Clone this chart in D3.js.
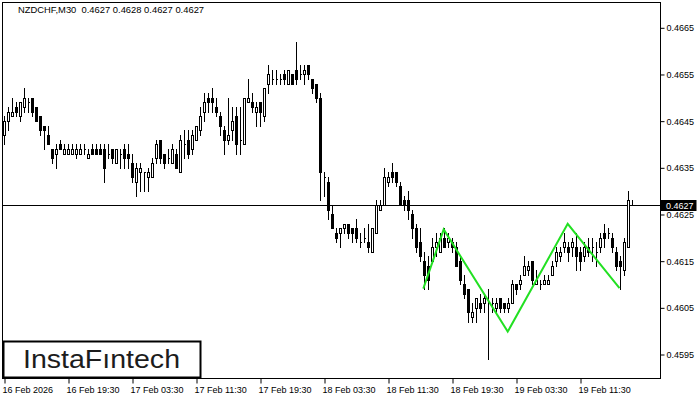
<!DOCTYPE html>
<html>
<head>
<meta charset="utf-8">
<script src="https://cdn.jsdelivr.net/npm/d3@7"></script>
<style>
  body { margin: 0; background: #fff; }
  svg { display: block; }
  text { font-family: "Liberation Sans", Arial, sans-serif; }
</style>
</head>
<body>
<svg width="700" height="400"></svg>
<script>
// NZDCHF M30 candles
let open = [
  0.4642,0.4645,0.4646,0.4648,0.4646,0.4648,0.4649,0.4650,0.4648,0.4646,
  0.4644,0.4642,0.4639,0.4638,0.4640,0.4638,0.4638,0.4638,0.4638,0.4638,
  0.4639,0.4637,0.4639,0.4639,0.4639,0.4639,0.4638,0.4639,0.4636,0.4638,
  0.4639,0.4638,0.4636,0.4632,0.4634,0.4634,0.4633,0.4633,0.4637,0.4641,
  0.4638,0.4637,0.4636,0.4638,0.4634,0.4640,0.4641,0.4639,0.4641,0.4643,
  0.4647,0.4650,0.4650,0.4648,0.4646,0.4643,0.4641,0.4643,0.4646,0.4641,
  0.4640,0.4649,0.4649,0.4647,0.4649,0.4646,0.4653,0.4654,0.4654,0.4654,
  0.4655,0.4653,0.4655,0.4656,0.4655,0.4655,0.4657,0.4654,0.4653,0.4650,
  0.4633,0.4632,0.4625,0.4621,0.4621,0.4622,0.4623,0.4622,0.4622,0.4619,
  0.4620,0.4619,0.4617,0.4621,0.4626,0.4627,0.4632,0.4634,0.4634,0.4631,
  0.4628,0.4628,0.4625,0.4622,0.4619,0.4615,0.4614,0.4615,0.4618,0.4617,
  0.4620,0.4619,0.4619,0.4618,0.4615,0.4610,0.4609,0.4603,0.4605,0.4606,
  0.4606,0.4606,0.4606,0.4605,0.4607,0.4606,0.4605,0.4606,0.4610,0.4610,
  0.4612,0.4613,0.4615,0.4610,0.4610,0.4610,0.4610,0.4612,0.4615,0.4616,
  0.4618,0.4618,0.4618,0.4618,0.4617,0.4616,0.4618,0.4618,0.4617,0.4618,
  0.4621,0.4621,0.4620,0.4617,0.4615,0.4613,0.4618,0.4627
];
let high = [
  0.4646,0.4648,0.4650,0.4649,0.4649,0.4652,0.4650,0.4650,0.4648,0.4646,
  0.4644,0.4644,0.4639,0.4640,0.4641,0.4640,0.4640,0.4640,0.4640,0.4640,
  0.4640,0.4639,0.4640,0.4640,0.4640,0.4640,0.4640,0.4639,0.4639,0.4639,
  0.4640,0.4640,0.4638,0.4636,0.4636,0.4634,0.4635,0.4637,0.4641,0.4641,
  0.4638,0.4639,0.4640,0.4639,0.4642,0.4643,0.4643,0.4643,0.4644,0.4648,
  0.4651,0.4651,0.4652,0.4650,0.4647,0.4644,0.4650,0.4648,0.4648,0.4648,
  0.4650,0.4654,0.4651,0.4649,0.4649,0.4652,0.4657,0.4656,0.4656,0.4655,
  0.4656,0.4656,0.4655,0.4662,0.4657,0.4657,0.4657,0.4654,0.4653,0.4651,
  0.4634,0.4633,0.4627,0.4622,0.4622,0.4623,0.4623,0.4622,0.4624,0.4621,
  0.4622,0.4623,0.4622,0.4628,0.4628,0.4635,0.4634,0.4636,0.4634,0.4632,
  0.4629,0.4630,0.4626,0.4623,0.4622,0.4617,0.4616,0.4620,0.4621,0.4621,
  0.4622,0.4621,0.4620,0.4619,0.4616,0.4612,0.4609,0.4606,0.4607,0.4608,
  0.4608,0.4609,0.4607,0.4607,0.4607,0.4606,0.4607,0.4611,0.4610,0.4612,
  0.4616,0.4615,0.4615,0.4613,0.4611,0.4612,0.4612,0.4615,0.4618,0.4618,
  0.4621,0.4619,0.4620,0.4621,0.4618,0.4619,0.4620,0.4620,0.4619,0.4621,
  0.4623,0.4622,0.4621,0.4618,0.4616,0.4620,0.4630,0.4628
];
let low = [
  0.4640,0.4643,0.4646,0.4646,0.4645,0.4647,0.4647,0.4646,0.4645,0.4642,
  0.4639,0.4640,0.4636,0.4635,0.4639,0.4638,0.4638,0.4638,0.4637,0.4638,
  0.4638,0.4637,0.4638,0.4638,0.4638,0.4632,0.4637,0.4636,0.4636,0.4635,
  0.4635,0.4635,0.4632,0.4629,0.4630,0.4630,0.4630,0.4633,0.4636,0.4636,
  0.4635,0.4636,0.4636,0.4635,0.4634,0.4637,0.4637,0.4638,0.4641,0.4642,
  0.4645,0.4647,0.4647,0.4646,0.4642,0.4638,0.4640,0.4641,0.4638,0.4638,
  0.4640,0.4649,0.4647,0.4644,0.4644,0.4645,0.4651,0.4653,0.4653,0.4653,
  0.4653,0.4653,0.4653,0.4653,0.4654,0.4653,0.4654,0.4651,0.4649,0.4628,
  0.4629,0.4624,0.4622,0.4619,0.4618,0.4621,0.4620,0.4619,0.4619,0.4618,
  0.4619,0.4617,0.4617,0.4621,0.4626,0.4627,0.4631,0.4632,0.4631,0.4627,
  0.4626,0.4624,0.4620,0.4617,0.4615,0.4609,0.4609,0.4615,0.4616,0.4617,
  0.4618,0.4618,0.4617,0.4614,0.4610,0.4607,0.4602,0.4602,0.4602,0.4604,
  0.4604,0.4594,0.4604,0.4604,0.4604,0.4604,0.4604,0.4606,0.4608,0.4609,
  0.4612,0.4612,0.4610,0.4610,0.4609,0.4610,0.4610,0.4612,0.4614,0.4615,
  0.4617,0.4615,0.4616,0.4613,0.4613,0.4615,0.4616,0.4615,0.4614,0.4617,
  0.4618,0.4620,0.4617,0.4613,0.4609,0.4612,0.4618,0.4627
];
let close = [
  0.4645,0.4647,0.4647,0.4647,0.4649,0.4650,0.4649,0.4647,0.4645,0.4643,
  0.4643,0.4640,0.4637,0.4639,0.4639,0.4639,0.4639,0.4639,0.4639,0.4639,
  0.4639,0.4638,0.4638,0.4638,0.4638,0.4635,0.4638,0.4637,0.4639,0.4638,
  0.4637,0.4637,0.4633,0.4635,0.4635,0.4634,0.4634,0.4636,0.4640,0.4637,
  0.4636,0.4637,0.4639,0.4635,0.4641,0.4640,0.4638,0.4642,0.4644,0.4646,
  0.4649,0.4649,0.4649,0.4647,0.4644,0.4641,0.4642,0.4645,0.4640,0.4641,
  0.4650,0.4650,0.4648,0.4648,0.4647,0.4652,0.4655,0.4654,0.4654,0.4654,
  0.4654,0.4656,0.4653,0.4654,0.4655,0.4656,0.4655,0.4652,0.4650,0.4634,
  0.4633,0.4626,0.4622,0.4620,0.4622,0.4623,0.4621,0.4621,0.4620,0.4619,
  0.4620,0.4618,0.4622,0.4627,0.4627,0.4633,0.4633,0.4633,0.4632,0.4627,
  0.4627,0.4626,0.4622,0.4618,0.4616,0.4612,0.4611,0.4618,0.4619,0.4620,
  0.4618,0.4620,0.4618,0.4614,0.4611,0.4608,0.4604,0.4604,0.4607,0.4605,
  0.4607,0.4606,0.4606,0.4606,0.4605,0.4605,0.4606,0.4610,0.4609,0.4611,
  0.4614,0.4614,0.4611,0.4611,0.4610,0.4611,0.4611,0.4614,0.4617,0.4617,
  0.4619,0.4617,0.4619,0.4616,0.4615,0.4618,0.4617,0.4618,0.4617,0.4620,
  0.4620,0.4621,0.4618,0.4614,0.4614,0.4619,0.4628,0.4627
];

// pattern line (candle index, price)
let patternIdx = [104.7, 109.8, 125.8, 140.8, 153.75];
let patternPrice = [0.46091, 0.46218, 0.45999, 0.46230, 0.46092];

let timeTicks = [0, 16, 32, 48, 64, 80, 96, 112, 128, 144];
let timeLabels = ["16 Feb 2026", "16 Feb 19:30", "17 Feb 03:30", "17 Feb 11:30",
                  "17 Feb 19:30", "18 Feb 03:30", "18 Feb 11:30", "18 Feb 19:30",
                  "19 Feb 03:30", "19 Feb 11:30"];
let priceTicks = [0.4595, 0.4605, 0.4615, 0.4625, 0.4635, 0.4645, 0.4655, 0.4665];
let lastPrice = 0.4627;
let title = "NZDCHF,M30  0.4627 0.4628 0.4627 0.4627";

let svg = d3.select("svg");
let right = 660.5, bottom = 378.5;

let x = d3.scaleLinear().domain([0, 1]).range([4.5, 8.5]);
let y = d3.scaleLinear().domain([0.4595, 0.4665]).range([354.5, 27.8]);
let py = v => Math.round(y(v)) + 0.5;

let candles = open.map((o, i) => ({i: i, o: o, h: high[i], l: low[i], c: close[i]}));

// frame
svg.append("rect")
    .attr("x", 2.5).attr("y", 2.5)
    .attr("width", right - 2.5).attr("height", bottom - 2.5)
    .attr("fill", "none").attr("stroke", "#000");

// last price line
svg.append("line")
    .attr("x1", 2.5).attr("x2", right)
    .attr("y1", py(lastPrice)).attr("y2", py(lastPrice))
    .attr("stroke", "#000");

let g = svg.append("g").attr("shape-rendering", "crispEdges");

g.selectAll("line.wick")
    .data(candles).enter().append("line")
        .attr("class", "wick")
        .attr("x1", d => x(d.i)).attr("x2", d => x(d.i))
        .attr("y1", d => py(d.h) - 0.5).attr("y2", d => py(d.l) + 0.5)
        .attr("stroke", "#000");

g.selectAll("path.body")
    .data(candles).enter().append("path")
        .attr("class", "body")
        .attr("d", d => {
            let x0 = x(d.i) - 1, x1 = x(d.i) + 1;
            let t = py(Math.max(d.o, d.c)), b = py(Math.min(d.o, d.c));
            return `M${x0},${t}H${x1}V${b}H${x0}Z`;
        })
        .attr("fill", d => d.c >= d.o ? "#fff" : "#000")
        .attr("stroke", "#000");

// pattern
svg.append("path")
    .datum(patternIdx.map((v, k) => [v, patternPrice[k]]))
    .attr("d", d3.line().x(d => x(d[0])).y(d => y(d[1])))
    .attr("fill", "none")
    .attr("stroke", "#22e022")
    .attr("stroke-width", 2);

// y axis
let yAxis = svg.append("g")
    .attr("transform", `translate(${right},0)`)
    .call(d3.axisRight(y).tickValues(priceTicks).tickSize(4).tickPadding(2)
        .tickFormat(d => d.toFixed(4)));
yAxis.select(".domain").remove();
yAxis.selectAll("text").attr("font-size", "9px").attr("font-family", "Liberation Sans, Arial, sans-serif");

// x axis
let xAxis = svg.append("g")
    .attr("transform", `translate(0,${bottom})`)
    .call(d3.axisBottom(x).tickValues(timeTicks).tickSize(5).tickPadding(3)
        .tickFormat((d, k) => timeLabels[k]));
xAxis.select(".domain").remove();
xAxis.selectAll("text")
    .attr("text-anchor", "start").attr("dx", "-2.5")
    .attr("font-size", "9px").attr("font-family", "Liberation Sans, Arial, sans-serif");

// last price label
svg.append("rect")
    .attr("x", right).attr("y", py(lastPrice) - 5.5)
    .attr("width", 36).attr("height", 11)
    .attr("fill", "#000");
svg.append("text")
    .attr("x", 666).attr("y", py(lastPrice) + 3.5)
    .attr("font-size", "9px").attr("fill", "#fff")
    .text(lastPrice.toFixed(4));

// title
svg.append("text")
    .attr("x", 18).attr("y", 13)
    .attr("font-size", "9.4px").attr("fill", "#000")
    .attr("xml:space", "preserve")
    .style("white-space", "pre")
    .text(title);

// logo
svg.append("rect")
    .attr("x", 3.5).attr("y", 341.5)
    .attr("width", 197).attr("height", 36)
    .attr("fill", "#fff").attr("stroke", "#000").attr("stroke-width", 2);
svg.append("text")
    .attr("x", 23).attr("y", 368)
    .attr("font-family", "Inter, Lato, sans-serif")
    .attr("font-weight", 500)
    .attr("font-size", "25px")
    .attr("fill", "#1c1c1c")
    .attr("textLength", 157)
    .attr("lengthAdjust", "spacingAndGlyphs")
    .text("InstaF\u0131ntech");
</script>
</body>
</html>
